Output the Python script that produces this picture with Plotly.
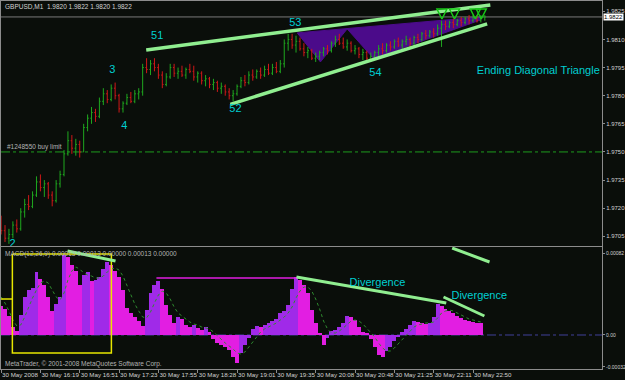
import plotly.graph_objects as go

# ---------------- data ----------------
time_ticks = [0, 10, 20, 30, 40, 50, 60, 70, 80, 90, 100, 110, 120]
time_labels = ["30 May 2008", "30 May 16:19", "30 May 16:51", "30 May 17:23", "30 May 17:55",
               "30 May 18:28", "30 May 19:01", "30 May 19:35", "30 May 20:08", "30 May 20:48",
               "30 May 21:25", "30 May 22:11", "30 May 22:50"]

bar_index = list(range(124))
opens = [1.9712,1.9708,1.9704,1.9706,1.9711,1.9709,1.9718,1.9722,1.9721,1.9727,
         1.9734,1.9731,1.9733,1.9727,1.9724,1.9733,1.9738,1.9749,1.9756,1.9752,
         1.9754,1.9750,1.9763,1.9768,1.9771,1.9769,1.9777,1.9781,1.9778,1.9784,
         1.9780,1.9773,1.9776,1.9779,1.9777,1.9781,1.9782,1.9795,1.9794,1.9797,
         1.9795,1.9791,1.9786,1.9790,1.9795,1.9792,1.9793,1.9791,1.9794,1.9793,
         1.9790,1.9792,1.9788,1.9789,1.9786,1.9787,1.9784,1.9785,1.9782,1.9780,
         1.9781,1.9785,1.9788,1.9787,1.9791,1.9790,1.9793,1.9791,1.9794,1.9792,
         1.9795,1.9793,1.9797,1.9808,1.9810,1.9807,1.9809,1.9805,1.9803,1.9804,
         1.9800,1.9801,1.9803,1.9805,1.9804,1.9808,1.9810,1.9808,1.9806,1.9808,
         1.9804,1.9805,1.9802,1.9803,1.9800,1.9801,1.9803,1.9805,1.9804,1.9807,
         1.9806,1.9809,1.9807,1.9809,1.9810,1.9808,1.9811,1.9810,1.9813,1.9812,
         1.9814,1.9813,1.9816,1.9818,1.9817,1.9819,1.9818,1.9820,1.9819,1.9821,
         1.9820,1.9822,1.9820,1.9822]
highs = [1.9716,1.9711,1.9709,1.9713,1.9714,1.9720,1.9725,1.9727,1.9729,1.9737,
         1.9738,1.9735,1.9734,1.9729,1.9735,1.9740,1.9751,1.9761,1.9759,1.9757,
         1.9756,1.9765,1.9770,1.9774,1.9773,1.9779,1.9784,1.9783,1.9786,1.9787,
         1.9781,1.9777,1.9781,1.9782,1.9783,1.9784,1.9797,1.9800,1.9799,1.9800,
         1.9797,1.9793,1.9792,1.9797,1.9797,1.9795,1.9796,1.9795,1.9797,1.9796,
         1.9793,1.9793,1.9791,1.9790,1.9789,1.9788,1.9787,1.9786,1.9784,1.9783,
         1.9786,1.9790,1.9791,1.9793,1.9794,1.9794,1.9795,1.9796,1.9797,1.9797,
         1.9798,1.9799,1.9810,1.9813,1.9813,1.9812,1.9811,1.9808,1.9806,1.9805,
         1.9803,1.9804,1.9806,1.9807,1.9809,1.9812,1.9813,1.9811,1.9810,1.9809,
         1.9807,1.9806,1.9805,1.9804,1.9803,1.9804,1.9807,1.9808,1.9808,1.9809,
         1.9810,1.9811,1.9810,1.9812,1.9811,1.9812,1.9813,1.9814,1.9815,1.9815,
         1.9816,1.9818,1.9820,1.9820,1.9820,1.9821,1.9821,1.9822,1.9822,1.9823,
         1.9823,1.9823,1.9823,1.9823]
lows = [1.9706,1.9702,1.9701,1.9704,1.9707,1.9708,1.9715,1.9719,1.9720,1.9726,
        1.9729,1.9726,1.9725,1.9721,1.9723,1.9731,1.9737,1.9748,1.9749,1.9748,
        1.9747,1.9750,1.9761,1.9765,1.9766,1.9768,1.9775,1.9776,1.9777,1.9778,
        1.9771,1.9771,1.9775,1.9776,1.9776,1.9778,1.9780,1.9792,1.9791,1.9793,
        1.9789,1.9784,1.9785,1.9789,1.9790,1.9789,1.9790,1.9789,1.9792,1.9788,
        1.9787,1.9786,1.9785,1.9784,1.9783,1.9782,1.9781,1.9780,1.9778,1.9777,
        1.9780,1.9784,1.9785,1.9786,1.9788,1.9789,1.9789,1.9790,1.9791,1.9791,
        1.9792,1.9792,1.9795,1.9804,1.9805,1.9803,1.9804,1.9801,1.9800,1.9799,
        1.9798,1.9799,1.9801,1.9802,1.9803,1.9806,1.9807,1.9805,1.9804,1.9803,
        1.9802,1.9800,1.9799,1.9799,1.9798,1.9799,1.9801,1.9802,1.9803,1.9804,
        1.9805,1.9806,1.9805,1.9807,1.9806,1.9807,1.9808,1.9809,1.9810,1.9811,
        1.9811,1.9812,1.9806,1.9815,1.9816,1.9816,1.9817,1.9817,1.9818,1.9818,
        1.9819,1.9819,1.9819,1.9820]
closes = [1.9708,1.9704,1.9706,1.9711,1.9709,1.9718,1.9722,1.9721,1.9727,1.9734,
          1.9731,1.9733,1.9727,1.9724,1.9733,1.9738,1.9749,1.9756,1.9752,1.9754,
          1.9750,1.9763,1.9768,1.9771,1.9769,1.9777,1.9781,1.9778,1.9784,1.9780,
          1.9773,1.9776,1.9779,1.9777,1.9781,1.9782,1.9795,1.9794,1.9797,1.9795,
          1.9791,1.9786,1.9790,1.9795,1.9792,1.9793,1.9791,1.9794,1.9793,1.9790,
          1.9792,1.9788,1.9789,1.9786,1.9787,1.9784,1.9785,1.9782,1.9780,1.9781,
          1.9785,1.9788,1.9787,1.9791,1.9790,1.9793,1.9791,1.9794,1.9792,1.9795,
          1.9793,1.9797,1.9808,1.9810,1.9807,1.9809,1.9805,1.9803,1.9804,1.9800,
          1.9801,1.9803,1.9805,1.9804,1.9808,1.9810,1.9808,1.9806,1.9808,1.9804,
          1.9805,1.9802,1.9803,1.9800,1.9801,1.9803,1.9805,1.9804,1.9807,1.9806,
          1.9809,1.9807,1.9809,1.9810,1.9808,1.9811,1.9810,1.9813,1.9812,1.9814,
          1.9813,1.9816,1.9818,1.9817,1.9819,1.9818,1.9820,1.9819,1.9821,1.9820,
          1.9822,1.9820,1.9822,1.9822]

macd_index = list(range(123))
macd_hist = [0.00029,0.00026,0.00019,0.00008,0.00004,0.00020,0.00038,0.00045,0.00047,0.00063,
             0.00056,0.00050,0.00038,0.00024,0.00031,0.00038,0.00080,0.00078,0.00070,0.00064,
             0.00050,0.00060,0.00063,0.00054,0.00055,0.00058,0.00066,0.00073,0.00070,0.00064,
             0.00058,0.00045,0.00027,0.00022,0.00018,0.00014,0.00009,0.00025,0.00042,0.00050,
             0.00054,0.00046,0.00030,0.00020,0.00012,0.00018,0.00016,0.00010,0.00008,0.00010,
             0.00007,0.00005,0.00008,0.00003,-0.00004,-0.00008,-0.00010,-0.00012,-0.00015,-0.00022,
             -0.00028,-0.00018,-0.00010,-0.00003,0.00006,0.00009,0.00008,0.00010,0.00012,0.00014,
             0.00016,0.00022,0.00024,0.00030,0.00046,0.00058,0.00055,0.00050,0.00042,0.00025,
             0.00012,0.00002,-0.00010,-0.00003,0.00004,0.00005,0.00008,0.00012,0.00019,0.00018,
             0.00015,0.00008,0.00003,0.00001,-0.00004,-0.00012,-0.00020,-0.00022,-0.00016,-0.00012,
             -0.00006,-0.00002,0.00003,0.00006,0.00010,0.00014,0.00013,0.00012,0.00011,0.00012,
             0.00018,0.00031,0.00029,0.00026,0.00024,0.00022,0.00019,0.00017,0.00015,0.00014,
             0.00013,0.00012,0.00012]
macd_signal = [0.00038,0.00032,0.00024,0.00015,0.00009,0.00010,0.00018,0.00028,0.00037,0.00045,
               0.00052,0.00054,0.00052,0.00045,0.00038,0.00035,0.00042,0.00055,0.00064,0.00068,
               0.00066,0.00062,0.00060,0.00059,0.00057,0.00057,0.00059,0.00063,0.00066,0.00067,
               0.00065,0.00059,0.00050,0.00040,0.00031,0.00024,0.00018,0.00017,0.00023,0.00032,
               0.00040,0.00044,0.00042,0.00036,0.00028,0.00022,0.00019,0.00016,0.00013,0.00011,
               0.00010,0.00008,0.00007,0.00006,0.00003,-0.00001,-0.00005,-0.00008,-0.00011,-0.00014,
               -0.00018,-0.00019,-0.00017,-0.00012,-0.00006,-0.00001,0.00003,0.00006,0.00008,0.00010,
               0.00012,0.00015,0.00018,0.00022,0.00028,0.00037,0.00044,0.00048,0.00048,0.00044,
               0.00036,0.00026,0.00014,0.00006,0.00002,0.00002,0.00004,0.00007,0.00011,0.00014,
               0.00015,0.00014,0.00011,0.00007,0.00003,-0.00002,-0.00008,-0.00013,-0.00016,-0.00016,
               -0.00013,-0.00009,-0.00004,0.00000,0.00004,0.00008,0.00010,0.00011,0.00012,0.00012,
               0.00013,0.00017,0.00022,0.00024,0.00025,0.00024,0.00022,0.00020,0.00018,0.00016,
               0.00015,0.00014,0.00013]

price_ticks = [1.9705, 1.9720, 1.9735, 1.9750, 1.9765, 1.9780, 1.9795, 1.9810, 1.9825]
macd_ticks = [0.00082, 0.0, -0.00032]
macd_tick_labels = ["0.00082", "0.00", "-0.00032"]
bid_price = 1.9822
order_price = 1.9750

wave_labels = ["51", "3", "4", "52", "53", "54", "2", "Ending Diagonal Triangle"]
wave_x = [39.7, 28.3, 31.35, 59.6, 74.8, 95.2, 2.9, 136.6]
wave_price = [1.98119, 1.97937, 1.97639, 1.97729, 1.98188, 1.97921, 1.97006, 1.97932]

upper_line_x = [36.9, 124.4]
upper_line_p = [1.98044, 1.98284]
lower_line_x = [58.3, 123.6]
lower_line_p = [1.97754, 1.98183]
zigzag_x = [75.3, 81.2, 88.0, 94.7, 121.9, 121.9]
zigzag_p = [1.98135, 1.97980, 1.98156, 1.97999, 1.98204, 1.98220]
arrow_x = [112.1, 115.3, 120.6, 122.1]
arrow_p = [1.98209, 1.98209, 1.98209, 1.98209]

div_lines_x = [[16.9, 29.1], [75.1, 113.2], [112.5, 122.9], [114.7, 124.2]]
div_lines_v = [[0.00084, 0.00074], [0.00058, 0.00032], [0.00038, 0.00019], [0.00087, 0.00073]]
level_line_x = [39.5, 75.3]
level_line_v = [0.00057, 0.00057]
box_x = [2.87, 28.05, 28.05, 2.87, 2.87]
box_v = [0.00081, 0.00081, -0.00018, -0.00018, 0.00081]
box2_x = [-0.02, 2.87]
box2_v = [0.00036, 0.00036]
div_text = ["Divergence", "Divergence"]
div_text_x = [95.7, 121.6]
div_text_v = [0.00052, 0.00039]

# ---------------- styling ----------------
BG = "#0a0e0a"
FRAME = "#8c8c8c"
TXT = "#d2d2d2"
LGREEN = "#90ee90"
CYAN = "#00ced1"
FONT = "Liberation Sans"
XR = [-0.02, 152.8]

fig = go.Figure()

# price panel
fig.add_trace(go.Ohlc(x=bar_index, open=opens, high=highs, low=lows, close=closes,
                      increasing=dict(line=dict(color="#1fa81f", width=1)),
                      decreasing=dict(line=dict(color="#d01818", width=1)),
                      tickwidth=0.3, xaxis="x", yaxis="y", hoverinfo="skip"))
for lx, lp in [(upper_line_x, upper_line_p), (lower_line_x, lower_line_p)]:
    fig.add_trace(go.Scatter(x=lx, y=lp, mode="lines", line=dict(color=LGREEN, width=3.5),
                             xaxis="x", yaxis="y", hoverinfo="skip"))
fig.add_trace(go.Scatter(x=arrow_x, y=arrow_p, mode="markers",
                         marker=dict(symbol="arrow-down-open", size=10, color="#18c818",
                                     line=dict(color="#18c818", width=1.5)),
                         xaxis="x", yaxis="y", hoverinfo="skip"))
fig.add_trace(go.Scatter(x=wave_x, y=wave_price, mode="text", text=wave_labels,
                         textfont=dict(family=FONT, size=11, color=CYAN),
                         textposition="middle center", cliponaxis=True,
                         xaxis="x", yaxis="y", hoverinfo="skip"))

# MACD panel
hist_colors = ["#e21ee2" if (i == 0 or macd_hist[i] <= macd_hist[i - 1]) else "#a02ae8"
               for i in range(len(macd_hist))]
fig.add_trace(go.Bar(x=macd_index, y=macd_hist, marker=dict(color=hist_colors, line=dict(width=0)),
                     width=1.0, xaxis="x2", yaxis="y2", hoverinfo="skip"))
fig.add_trace(go.Scatter(x=macd_index, y=macd_signal, mode="lines",
                         line=dict(color="#2e8b2e", width=1, dash="dot"),
                         xaxis="x2", yaxis="y2", hoverinfo="skip"))
fig.add_trace(go.Scatter(x=box_x, y=box_v, mode="lines", line=dict(color="#e6e600", width=1.5),
                         xaxis="x2", yaxis="y2", hoverinfo="skip"))
fig.add_trace(go.Scatter(x=box2_x, y=box2_v, mode="lines", line=dict(color="#e6e600", width=1.5),
                         xaxis="x2", yaxis="y2", hoverinfo="skip"))
fig.add_trace(go.Scatter(x=level_line_x, y=level_line_v, mode="lines",
                         line=dict(color="#e21ee2", width=1.5),
                         xaxis="x2", yaxis="y2", hoverinfo="skip"))
for lx, lv in zip(div_lines_x, div_lines_v):
    fig.add_trace(go.Scatter(x=lx, y=lv, mode="lines", line=dict(color=LGREEN, width=3),
                             xaxis="x2", yaxis="y2", hoverinfo="skip", cliponaxis=False))
fig.add_trace(go.Scatter(x=div_text_x, y=div_text_v, mode="text", text=div_text,
                         textfont=dict(family=FONT, size=11, color=CYAN),
                         xaxis="x2", yaxis="y2", hoverinfo="skip"))

# zigzag fill (drawn below the bars) built from the data arrays
zz_path = "M " + " L ".join(f"{x},{p}" for x, p in zip(zigzag_x, zigzag_p)) + " Z"

shapes = [
    dict(type="path", xref="x", yref="y", path=zz_path, fillcolor="#4b0b8a",
         line=dict(color="#4b0b8a", width=1), layer="below"),
    dict(type="line", xref="x", yref="y", x0=XR[0], x1=XR[1], y0=bid_price, y1=bid_price,
         line=dict(color="#7a7a7a", width=1), layer="below"),
    dict(type="line", xref="x", yref="y", x0=XR[0], x1=XR[1], y0=order_price, y1=order_price,
         line=dict(color="#1e9b1e", width=1, dash="dashdot"), layer="below"),
    dict(type="line", xref="x2", yref="y2", x0=XR[0], x1=XR[1], y0=0, y1=0,
         line=dict(color="#40409a", width=1, dash="dashdot"), layer="below"),
]

def py(px):
    return (369 - px) / 368.0

annotations = [
    dict(xref="paper", yref="paper", x=0.003, y=py(6), xanchor="left", yanchor="middle",
         text="GBPUSD,M1  1.9820 1.9822 1.9820 1.9822", showarrow=False,
         font=dict(family=FONT, size=6.5, color=TXT)),
    dict(xref="paper", yref="y", x=0.006, y=order_price, xanchor="left", yanchor="bottom",
         text="#1248550 buy limit", showarrow=False, yshift=-1,
         font=dict(family=FONT, size=6.5, color="#b4b4b4")),
    dict(xref="paper", yref="paper", x=0.003, y=py(254.5), xanchor="left", yanchor="middle",
         text="MACD(12,26,9) 0.00013 0.00013 0.00000 0.00013 0.00000", showarrow=False,
         font=dict(family=FONT, size=6.5, color="#b4b4b4")),
    dict(xref="paper", yref="paper", x=0.003, y=py(364), xanchor="left", yanchor="middle",
         text="MetaTrader, © 2001-2008 MetaQuotes Software Corp.", showarrow=False,
         font=dict(family=FONT, size=6.5, color="#b4b4b4")),
    dict(xref="paper", yref="y", x=1, y=bid_price, xanchor="left", yanchor="middle",
         text="1.9822", showarrow=False, xshift=1, bgcolor="#ffffff", borderpad=0,
         font=dict(family=FONT, size=6, color="#000000")),
]

axis_common = dict(showgrid=False, zeroline=False, showline=True, linecolor=FRAME,
                   linewidth=1, mirror=True, automargin=False)

fig.update_layout(
    width=625, height=380,
    margin=dict(l=1, r=23, t=1, b=11),
    paper_bgcolor=BG, plot_bgcolor=BG,
    showlegend=False, bargap=0,
    font=dict(family=FONT, size=6.5, color=TXT),
    shapes=shapes, annotations=annotations,
    xaxis=dict(domain=[0, 1], range=XR, anchor="y", showticklabels=False, ticks="",
               rangeslider=dict(visible=False), **axis_common),
    xaxis2=dict(domain=[0, 1], range=XR, anchor="y2", matches="x",
                tickvals=time_ticks, ticktext=time_labels, ticks="outside", ticklen=3,
                tickangle=0, tickcolor=FRAME, ticklabelposition="outside right",
                tickfont=dict(family=FONT, size=6.2, color=TXT), **axis_common),
    yaxis=dict(domain=[0.333, 1], range=[1.96996, 1.98305], side="right", anchor="x",
               tickvals=price_ticks, tickformat=".4f", ticks="outside", ticklen=2,
               ticklabelstandoff=0,
               tickcolor=FRAME, tickfont=dict(family=FONT, size=6, color=TXT), **axis_common),
    yaxis2=dict(domain=[0, 0.3315], range=[-0.00034, 0.00088], side="right", anchor="x2",
                tickvals=macd_ticks, ticktext=macd_tick_labels, ticks="outside", ticklen=2,
                ticklabelstandoff=0,
                tickcolor=FRAME, tickfont=dict(family=FONT, size=5.0, color=TXT), **axis_common),
)

fig.write_html("out.html")
